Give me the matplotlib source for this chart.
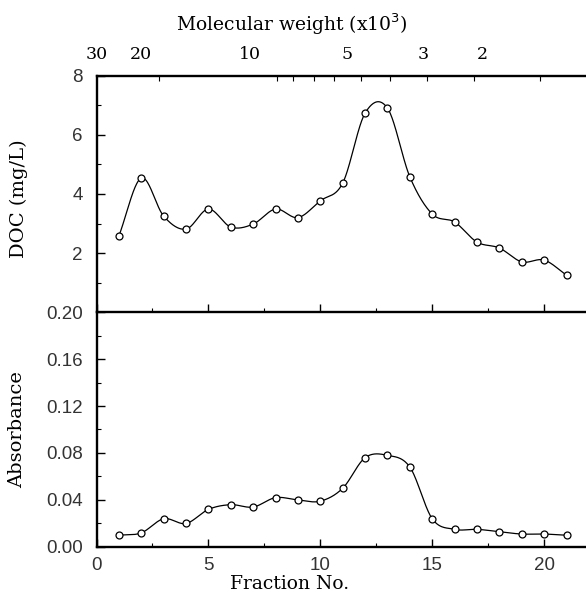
import numpy as np
import matplotlib
matplotlib.use('Agg')
import matplotlib.pyplot as plt
from matplotlib.ticker import MultipleLocator, FixedLocator, FormatStrFormatter

# data
fraction = np.arange(1, 22)
doc = [2.58, 4.54, 3.25, 2.81, 3.49, 2.88, 2.98, 3.49, 3.20, 3.77, 4.37,
       6.74, 6.91, 4.58, 3.32, 3.05, 2.37, 2.17, 1.70, 1.76, 1.25]
absorbance = [0.010, 0.012, 0.024, 0.020, 0.032, 0.036, 0.034, 0.042, 0.040, 0.039, 0.050,
              0.076, 0.078, 0.068, 0.024, 0.015, 0.015, 0.013, 0.011, 0.011, 0.010]

# molecular weight scale on top (labels and their fraction positions)
mw_labels = ['30', '20', '10', '5', '3', '2']
mw_pos = [0.0, 2.0, 6.85, 11.2, 14.6, 17.25]
mw_minor = [2.8, 6.85, 8.05, 8.8, 9.7, 10.6, 11.8, 13.1, 14.75, 16.85, 19.8]


def catmull_rom(x, y, n=40):
    # smooth curve through the points (uniform Catmull-Rom)
    x = np.asarray(x, float)
    y = np.asarray(y, float)
    t = np.gradient(y, x)
    xs_all, ys_all = [], []
    for i in range(len(x) - 1):
        h = x[i + 1] - x[i]
        s = np.linspace(0, 1, n)
        h00 = 2 * s ** 3 - 3 * s ** 2 + 1
        h10 = s ** 3 - 2 * s ** 2 + s
        h01 = -2 * s ** 3 + 3 * s ** 2
        h11 = s ** 3 - s ** 2
        xs_all.append(x[i] + s * h)
        ys_all.append(h00 * y[i] + h10 * h * t[i] + h01 * y[i + 1] + h11 * h * t[i + 1])
    return np.concatenate(xs_all), np.concatenate(ys_all)


serif = 'DejaVu Serif'
sans = 'Liberation Sans'

fig = plt.figure(figsize=(5.86, 6.02), dpi=100)
ax1 = fig.add_axes([0.1647, 0.4817, 0.8353, 0.3921])
ax2 = fig.add_axes([0.1647, 0.0914, 0.8353, 0.3903], sharex=ax1)

for ax, vals in [(ax1, doc), (ax2, absorbance)]:
    xs, ys = catmull_rom(fraction, vals)
    ax.plot(xs, ys, color='black', lw=0.9, zorder=2)
    ax.plot(fraction, vals, 'o', ms=5, mfc='white', mec='black', mew=0.9, zorder=3)
    ax.spines['right'].set_visible(False)
    for s in ['left', 'top', 'bottom']:
        ax.spines[s].set_linewidth(1.7)
    ax.tick_params(which='both', direction='in', labelsize=13.5, colors='black',
                   labelcolor='#333333', pad=10)
    ax.tick_params(which='major', length=6, width=1)
    ax.tick_params(which='minor', length=3, width=0.8)

ax1.set_xlim(0, 21.87)
ax1.set_ylim(0, 8)
ax1.yaxis.set_major_locator(FixedLocator([2, 4, 6, 8]))
ax1.yaxis.set_minor_locator(MultipleLocator(1))
ax1.spines['bottom'].set_visible(False)
ax1.tick_params(axis='x', which='both', bottom=False, labelbottom=False)
ax1.set_ylabel('DOC (mg/L)', family=serif, fontsize=14)
ax1.yaxis.set_label_coords(-0.14, 0.48)

ax2.set_ylim(0, 0.20)
ax2.yaxis.set_major_locator(MultipleLocator(0.04))
ax2.yaxis.set_minor_locator(MultipleLocator(0.02))
ax2.yaxis.set_major_formatter(FormatStrFormatter('%.2f'))
ax2.xaxis.set_major_locator(MultipleLocator(5))
ax2.xaxis.set_minor_locator(MultipleLocator(2.5))
ax2.tick_params(axis='x', pad=7)
ax2.set_xlabel('Fraction No.', family=serif, fontsize=13.5)
ax2.xaxis.set_label_coords(0.395, -0.12)
ax2.set_ylabel('Absorbance', family=serif, fontsize=14)
ax2.yaxis.set_label_coords(-0.143, 0.5)

for lab in ax1.get_yticklabels() + ax2.get_xticklabels() + ax2.get_yticklabels():
    lab.set_family(sans)

# molecular weight axis on top
top = ax1.twiny()
top.set_xlim(ax1.get_xlim())
top.xaxis.set_major_locator(FixedLocator(mw_pos))
top.xaxis.set_minor_locator(FixedLocator(mw_minor))
top.set_xticklabels(mw_labels, family=serif, fontsize=12.5)
top.tick_params(which='major', length=0, pad=9)
top.tick_params(which='minor', direction='in', length=3.5, width=0.8)
for s in top.spines.values():
    s.set_visible(False)
top.set_xlabel('Molecular weight (x10$^3$)', family=serif, fontsize=13.5)
top.xaxis.set_label_coords(0.40, 1.19)

plt.savefig('out.png', dpi=100)
plt.close()
